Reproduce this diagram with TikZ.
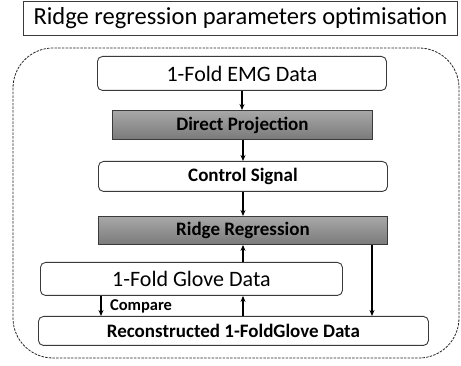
\documentclass[tikz,border=0pt]{standalone}
\usepackage{fontspec}
\setmainfont{Carlito}
\usetikzlibrary{arrows.meta}
\definecolor{boxline}{HTML}{3A3A3A}
\definecolor{shadetop}{HTML}{A8A8A8}
\definecolor{shadebot}{HTML}{7A7A7A}
\tikzset{
  whitebox/.style={draw=boxline, line width=0.9pt, fill=white, rounded corners=5pt,
    inner sep=0pt, anchor=north west},
  graybox/.style={draw=boxline, line width=0.9pt, top color=shadetop, bottom color=shadebot,
    inner sep=0pt, anchor=north west},
  flow/.style={line width=1.4pt, draw=black, -{Stealth[length=6pt,width=5pt]}},
  regtext/.style={font=\fontsize{22}{24}\selectfont},
  boldtext/.style={font=\fontsize{19}{21}\selectfont\bfseries},
}
\begin{document}
\begin{tikzpicture}[x=1pt, y=-1pt]
  \useasboundingbox (0,0) rectangle (461,366);
  % heading
  \node[draw=boxline, line width=0.9pt, inner sep=0pt, anchor=north west,
        minimum width=434pt, minimum height=34pt,
        font=\fontsize{24.5}{26}\selectfont] (title) at (23,1) {Ridge regression parameters optimisation};
  % dashed frame around the procedure
  \draw[line width=0.8pt, draw=black!85, dash pattern=on 2.5pt off 1.2pt, rounded corners=40pt]
    (13,48) rectangle (459,358);
  % process boxes
  \node[whitebox, minimum width=289pt, minimum height=34pt, regtext] (emg) at (97,56) {1-Fold EMG Data};
  \node[graybox, minimum width=260pt, minimum height=29pt, boldtext] (dp) at (112,110) {Direct Projection};
  \node[whitebox, minimum width=289pt, minimum height=30pt, boldtext] (cs) at (98,161) {Control Signal};
  \node[graybox, minimum width=289pt, minimum height=28pt, boldtext] (rr) at (98,216) {Ridge Regression};
  \node[whitebox, minimum width=302pt, minimum height=33pt, regtext] (glove) at (40,262) {1-Fold Glove Data};
  \node[whitebox, minimum width=390pt, minimum height=29pt, boldtext] (rec) at (38,316) {Reconstructed 1-FoldGlove Data};
  % connectors
  \draw[flow] (emg.south -| 242,0) -- (dp.north -| 242,0);
  \draw[flow] (dp.south -| 243,0) -- (cs.north -| 243,0);
  \draw[flow] (cs.south -| 243,0) -- (rr.north -| 243,0);
  \draw[flow] (glove.north -| 243,0) -- (rr.south -| 243,0);
  \draw[flow] (rec.north -| 243,0) -- (glove.south -| 243,0);
  \draw[flow] (rr.south -| 372,0) -- (rec.north -| 372,0);
  \draw[flow] (glove.south -| 101,0) -- node[right=5pt, font=\fontsize{16.5}{18}\selectfont\bfseries] {Compare} (rec.north -| 101,0);
\end{tikzpicture}
\end{document}
